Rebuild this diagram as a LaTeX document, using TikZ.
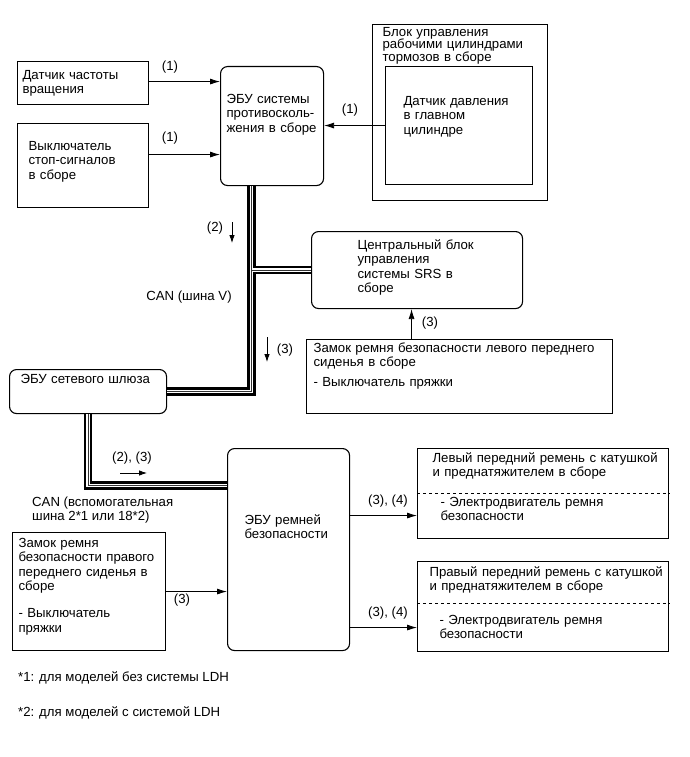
\documentclass[tikz,border=0pt]{standalone}
\usepackage{fontspec}
\setmainfont{Liberation Sans}
\usetikzlibrary{arrows.meta}

\begin{document}
\begin{tikzpicture}[x=1pt, y=-1pt,
 font=\fontsize{13.2}{14.6}\selectfont,
 bx/.style={draw, rectangle, line width=1.1pt, anchor=north west, align=left, inner sep=0pt},
 rbx/.style={bx, rounded corners=7pt},
 arr/.style={-{Latex[length=10pt,width=6pt]}, line width=0.8pt},
 tick/.style={-{Latex[length=8pt,width=5.5pt]}, line width=0.8pt},
 lbl/.style={inner sep=0pt},
 bus/.style={draw=white, line width=3.6pt, preaction={draw=black, line width=8.5pt}, postaction={draw=black!80, line width=1pt}},
 split/.style={dashed, line width=0.7pt},
]
\useasboundingbox (0,0) rectangle (689,757);

% sources on the left
\node[bx, minimum width=131pt, text width=121pt, text height=17.5pt, text depth=25.5pt] (speed) at (17,61) {Датчик частоты\\вращения};
\node[bx, minimum width=131pt, text width=109pt, text height=26.5pt, text depth=57.5pt] (stop) at (17,123) {Выключатель\\стоп-сигналов\\в сборе};

% brake ECU and actuator
\node[rbx, minimum width=103pt, text width=91pt, text height=36.5pt, text depth=82.5pt] (abs) at (220,66) {ЭБУ системы\\противосколь-\\жения в сборе};
\node[bx, minimum width=175pt, text width=155pt, text height=11.5pt, text depth=164.5pt, font=\fontsize{13.2}{12.5}\selectfont] (brk) at (372,24) {Блок управления\\рабочими цилиндрами\\тормозов в сборе};
\node[bx, minimum width=147pt, text width=111pt, text height=38.5pt, text depth=79.5pt] (mcs) at (385,66) {Датчик давления\\в главном\\цилиндре};

% airbag side
\node[rbx, minimum width=211pt, text width=119pt, text height=17.5pt, text depth=59.5pt] (srs) at (311,231) {Центральный блок\\управления\\системы SRS в\\сборе};
\node[bx, minimum width=306pt, text width=292pt, text height=12.5pt, text depth=61.5pt] (lbk) at (306,339) {Замок ремня безопасности левого переднего\\сиденья в сборе\\[5pt]- Выключатель пряжки};
\node[rbx, minimum width=157pt, text width=135pt, text height=13.5pt, text depth=30.5pt] (gw) at (9,369) {ЭБУ сетевого шлюза};

% seat belt part
\node[rbx, minimum width=122pt, text width=88pt, text height=75.5pt, text depth=126.5pt] (ecu) at (227,448) {ЭБУ ремней\\безопасности};
\node[bx, minimum width=251pt, text width=221pt, text height=13.5pt, text depth=76.5pt] (lbelt) at (417,448) {\mbox{Левый передний ремень с катушкой}\\и преднатяжителем в сборе\\[15pt]\hspace*{8pt}- Электродвигатель ремня\\\hspace*{8pt}безопасности};
\node[bx, minimum width=251pt, text width=227pt, text height=14.5pt, text depth=75.5pt] (rbelt) at (417,561) {\mbox{Правый передний ремень с катушкой}\\и преднатяжителем в сборе\\[19pt]\hspace*{10pt}- Электродвигатель ремня\\\hspace*{10pt}безопасности};
\node[bx, minimum width=153pt, text width=141pt, text height=14.5pt, text depth=103.5pt] (rbk) at (12,532) {Замок ремня\\безопасности правого\\переднего сиденья в\\сборе\\[12pt]- Выключатель\\пряжки};

\draw[split] (lbelt.west) -- (lbelt.east);
\draw[split] ([yshift=3pt]rbelt.west) -- ([yshift=3pt]rbelt.east);

% CAN lines
\coordinate (vtap) at ([xshift=-20.5pt]abs.south);
\draw[bus] (vtap) |- (gw.east) (srs.west) -- (srs.west -| vtap);
\draw[bus] (gw.south) |- ([yshift=64pt]ecu.west);

% signal arrows
\draw[arr] ([yshift=1.5pt]speed.east) -- ([yshift=1.5pt]speed.east -| abs.west);
\draw[arr] ([yshift=11pt]stop.east) -- ([yshift=11pt]stop.east -| abs.west);
\draw[arr] (mcs.west) -- (mcs.west -| abs.east);
\draw[arr] ([xshift=-5.5pt]srs.south |- lbk.north) -- ([xshift=-5.5pt]srs.south);
\draw[arr] (rbk.east) -- (rbk.east -| ecu.west);
\draw[arr] ([yshift=-22pt]lbelt.west -| ecu.east) -- ([yshift=-22pt]lbelt.west);
\draw[arr] ([yshift=-21pt]rbelt.west -| ecu.east) -- ([yshift=-21pt]rbelt.west);

% direction ticks
\coordinate (t2a) at (232,222);
\coordinate (t2b) at (232,243);
\coordinate (t3a) at (267,337);
\coordinate (t3b) at (267,362);
\coordinate (t23a) at (120,473);
\coordinate (t23b) at (147,473);
\draw[tick] (t2a) -- (t2b);
\draw[tick] (t3a) -- (t3b);
\draw[tick] (t23a) -- (t23b);

% labels
\node[lbl] (l1a) at (170,67) {(1)};
\node[lbl] (l1b) at (170,138) {(1)};
\node[lbl] (l1c) at (350,110) {(1)};
\node[lbl] (l2) at (215,228) {(2)};
\node[lbl] (canv) at (189,297) {CAN (шина V)};
\node[lbl] (l3a) at (285,350) {(3)};
\node[lbl] (l3b) at (430,323) {(3)};
\node[lbl] (l23) at (132,458) {(2), (3)};
\node[lbl, anchor=west, align=left] (cans) at (32,510) {CAN (вспомогательная\\шина 2*1 или 18*2)};
\node[lbl] (l34a) at (388,501) {(3), (4)};
\node[lbl] (l34b) at (388,613) {(3), (4)};
\node[lbl] (l3c) at (182,600) {(3)};

% footnotes
\node[lbl, anchor=west] (fn1) at (18,678) {*1: для моделей без системы LDH};
\node[lbl, anchor=west] (fn2) at (18,713) {*2: для моделей с системой LDH};
\end{tikzpicture}
\end{document}
